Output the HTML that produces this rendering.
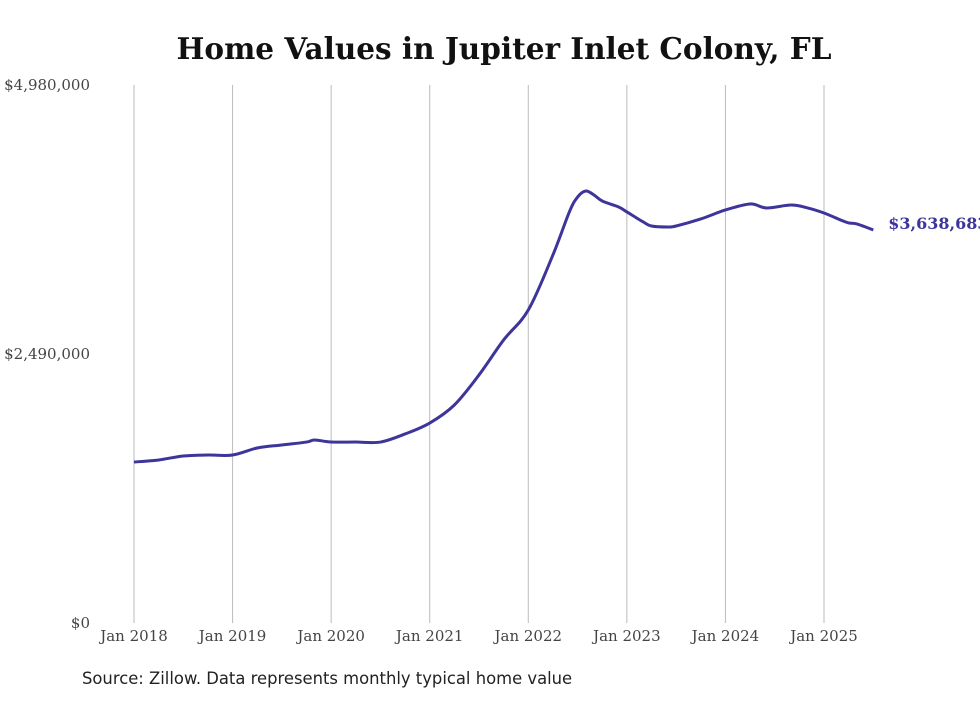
<!DOCTYPE html>
<html><head><meta charset="utf-8"><style>
body{margin:0;background:#fff;width:980px;height:699px;overflow:hidden}
svg text{font-family:"DejaVu Serif","Liberation Serif",serif}
</style></head><body>
<svg id="chart" width="980" height="699">
<text x="504" y="59" text-anchor="middle" font-size="29.5" font-weight="bold" fill="#111">Home Values in Jupiter Inlet Colony, FL</text>
<g id="grid"></g><g id="yaxis"></g><g id="xaxis"></g><g id="series"></g>
<text x="82" y="684" font-size="16.4" fill="#222" style="font-family:'DejaVu Sans','Liberation Sans',sans-serif">Source: Zillow. Data represents monthly typical home value</text>
</svg>
<script>
const yTicks=[0,2490000,4980000];
const yTickLabels=["$0","$2,490,000","$4,980,000"];
const xTickYears=[2018,2019,2020,2021,2022,2023,2024,2025];
const monthIdx=[0,3,6,9,12,15,18,21,22,24,27,30,33,36,39,42,45,48,51,53,54,55,56,57,59,60,62,63,65,66,69,72,75,77,80,82,84,86,87,88,90];
const values=[1490000,1509000,1546000,1555000,1555000,1620000,1648000,1675000,1694000,1675000,1675000,1675000,1750000,1851000,2018000,2296000,2620000,2897000,3407000,3805000,3943000,3999000,3962000,3906000,3851000,3805000,3712000,3675000,3666000,3675000,3740000,3823000,3879000,3842000,3869000,3842000,3795000,3731000,3703000,3694000,3638683];
const endLabel="$3,638,683";
const NS="http://www.w3.org/2000/svg";
const x=m=>134+m*(824-134)/84;
const y=v=>623-v*(623-85)/4980000;
function mk(t,a,p){const e=document.createElementNS(NS,t);for(const k in a)e.setAttribute(k,a[k]);p.appendChild(e);return e;}
const grid=document.getElementById('grid'),ya=document.getElementById('yaxis'),xa=document.getElementById('xaxis'),se=document.getElementById('series');
xTickYears.forEach((yr,i)=>{const X=x((yr-2018)*12);
const l=mk('line',{x1:X,x2:X,y1:85,y2:623,stroke:'#bbb','stroke-width':1},grid);


const t=mk('text',{x:X,y:641,'text-anchor':'middle','font-size':15,fill:'#444'},xa);t.textContent='Jan '+yr;

});
yTicks.forEach((v,i)=>{const t=mk('text',{x:90,y:y(v)+5,'text-anchor':'end','font-size':15,fill:'#444'},ya);t.textContent=yTickLabels[i];

});
const pts=monthIdx.map((m,i)=>[x(m),y(values[i])]);
let d='M'+pts[0].join(',');
for(let i=0;i<pts.length-1;i++){const p0=pts[i-1]||pts[i],p1=pts[i],p2=pts[i+1],p3=pts[i+2]||p2;
d+=` C${p1[0]+(p2[0]-p0[0])/6},${p1[1]+(p2[1]-p0[1])/6} ${p2[0]-(p3[0]-p1[0])/6},${p2[1]-(p3[1]-p1[1])/6} ${p2[0]},${p2[1]}`;}
const path=mk('path',{d:d,fill:'none',stroke:'#3d3599','stroke-width':3,'stroke-linejoin':'round'},se);


const last=pts[pts.length-1];
const lt=mk('text',{x:last[0]+15,y:last[1]-1,'font-size':16,'font-weight':'bold',fill:'#3d3599'},se);lt.textContent=endLabel;


</script>
</body></html>
